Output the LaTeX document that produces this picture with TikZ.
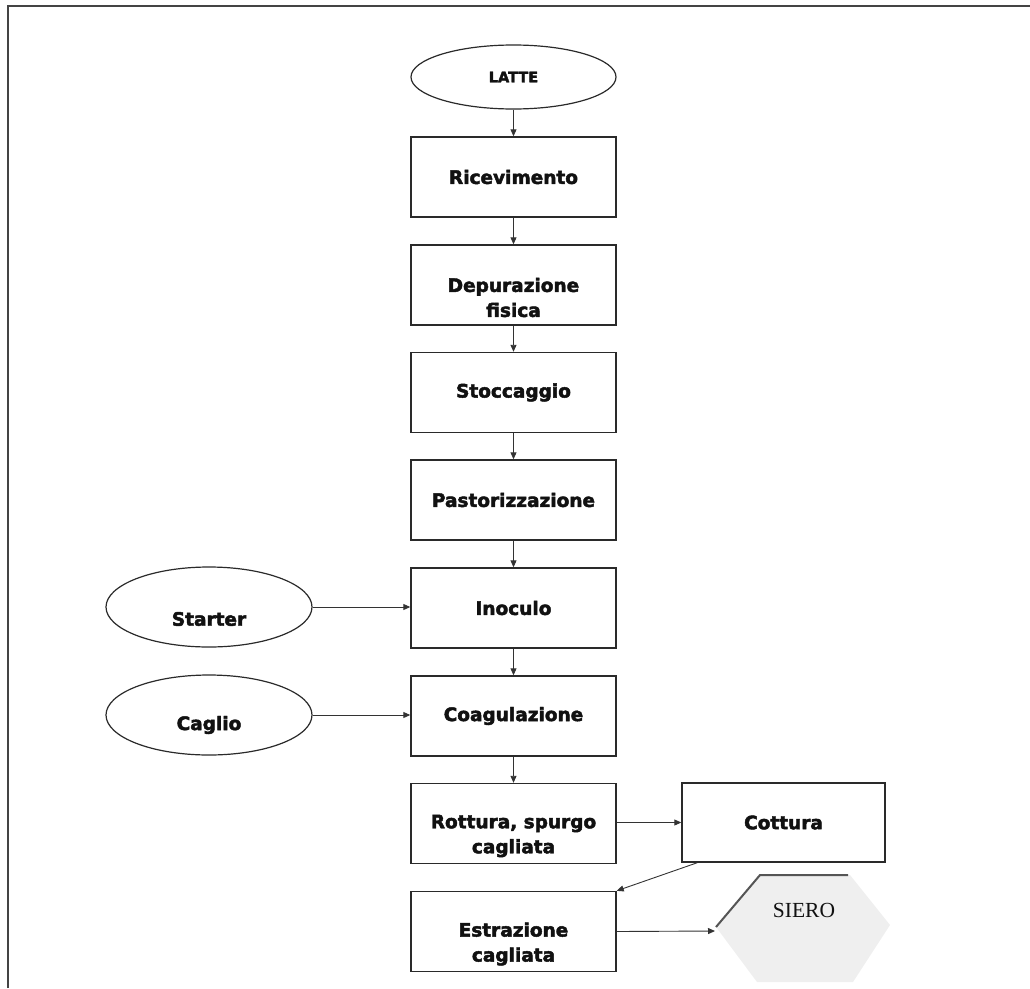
\documentclass[tikz,border=0pt]{standalone}
\usepackage{fontspec}
\setmainfont{DejaVu Sans}
\newfontfamily\heavyfont{DejaVu Sans Bold}[FakeBold=2.5]
\newfontfamily\serifface{Liberation Serif}
\usetikzlibrary{arrows.meta,shapes.geometric,calc}

\definecolor{boxgray}{HTML}{2A2A2A}
\definecolor{linegray}{HTML}{333333}
\definecolor{inkc}{HTML}{111111}
\definecolor{framegray}{HTML}{444444}
\definecolor{hexfill}{HTML}{EFEFEF}
\definecolor{hexedge}{HTML}{555555}

\begin{document}
\begin{tikzpicture}[x=1pt,y=-1pt,
  labelfont/.style={font=\heavyfont\fontsize{18.5}{25}\selectfont},
  stepbox/.style={draw=boxgray, line width=1.4pt, minimum width=205pt,
    minimum height=80pt, inner sep=0pt, text=inkc, align=center, labelfont},
  twoline/.style={label={[text=inkc, align=center, yshift=-12.5pt,
    labelfont]center:#1}},
  source/.style={ellipse, draw=boxgray, line width=1.2pt, minimum width=206pt,
    minimum height=80pt, inner sep=0pt},
  arr/.style={draw=linegray, line width=0.9pt, -{Triangle[length=7pt,width=6pt]}},
]
\useasboundingbox (0,0) rectangle (1030,988);

% page frame
\draw[framegray, line width=1.5pt] (8,988) -- (8,6) -- (1030,6);

% main column of process steps
\node[ellipse, draw=boxgray, line width=1.2pt, minimum width=205pt,
  minimum height=64pt, inner sep=0pt, text=inkc,
  font=\heavyfont\fontsize{14.5}{16}\selectfont] (latte) at (513.5,77) {LATTE};
\node[stepbox] (ricev) at (513.5,177) {Ricevimento};
\node[stepbox, twoline={Depurazione\\fisica}] (depur) at (513.5,285) {};
\node[stepbox] (stocc) at (513.5,392.5) {Stoccaggio};
\node[stepbox] (pasto) at (513.5,500) {Pastorizzazione};
\node[stepbox] (inoc) at (513.5,608) {Inoculo};
\node[stepbox] (coag) at (513.5,716) {Coagulazione};
\node[stepbox, twoline={Rottura, spurgo\\cagliata}] (rott) at (513.5,823.5) {};
\node[stepbox, twoline={Estrazione\\cagliata}] (estr) at (513.5,931.5) {};

% side branch
\node[stepbox, minimum width=203pt, minimum height=79pt] (cott) at (783.5,822.5) {Cottura};

% ingredient inputs
\node[source, label={[text=inkc, yshift=-12pt, labelfont]center:Starter}] (starter) at (209,607) {};
\node[source, label={[text=inkc, yshift=-10pt, labelfont]center:Caglio}] (caglio) at (209,715) {};

% whey output
\fill[hexfill] (760,875) -- (850,875) -- (890,925) -- (853,982) -- (757,982) -- (716,927) -- cycle;
\draw[hexedge, line width=2pt] (716,927) -- (760,875) -- (848,875);
\coordinate (sieroW) at (715,931);
\node[text=inkc, font=\serifface\fontsize{21.5}{23}\selectfont] (siero) at (804,910) {SIERO};

% flow
\draw[arr] (latte) -- (ricev);
\draw[arr] (ricev) -- (depur);
\draw[arr] (depur) -- (stocc);
\draw[arr] (stocc) -- (pasto);
\draw[arr] (pasto) -- (inoc);
\draw[arr] (inoc) -- (coag);
\draw[arr] (coag) -- (rott);
\draw[arr] (starter.east) -- (starter.east -| inoc.west);
\draw[arr] (caglio.east) -- (caglio.east -| coag.west);
\draw[arr] (rott.east |- cott.west) -- (cott.west);
\coordinate (cottOut) at ($(cott.south west)+(16,0)$);
\draw[arr] (cottOut) -- (estr.north east);
\draw[arr] (estr.east) -- (sieroW);
\end{tikzpicture}
\end{document}
